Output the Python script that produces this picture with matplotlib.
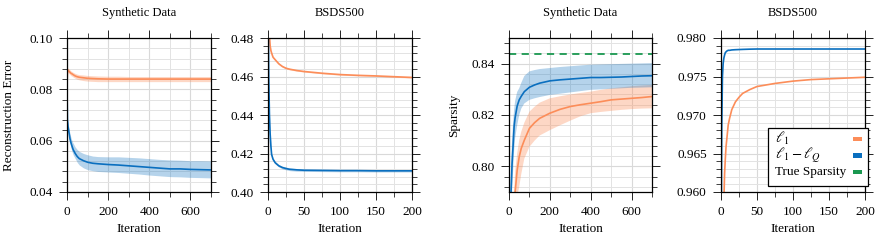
import matplotlib
matplotlib.use("Agg")
import matplotlib.pyplot as plt
from matplotlib.ticker import MultipleLocator, FormatStrFormatter
from matplotlib.patches import Rectangle

plt.rcParams['font.family'] = ['Liberation Serif', 'DejaVu Serif']
plt.rcParams['mathtext.fontset'] = 'stix'
plt.rcParams['font.size'] = 9

ORANGE = '#fc8d59'
BLUE = '#0a6fbf'
GREEN = '#1a9850'

# ---- Panel 1: Synthetic Data, reconstruction error ----
it1 = [0, 2, 5, 10, 15, 20, 25, 30, 40, 50, 60, 80, 100, 125, 150, 200, 250, 300, 350, 400, 450, 500, 550, 600, 650, 700]
err_syn_l1lq = [0.081, 0.068, 0.0655, 0.063, 0.0605, 0.059, 0.0577, 0.0565, 0.055, 0.0538, 0.053, 0.0522, 0.0516, 0.0512, 0.051, 0.0507, 0.0505, 0.0502, 0.0499, 0.0496, 0.0493, 0.049, 0.049, 0.0488, 0.0487, 0.0486]
err_syn_l1lq_hi = [0.081, 0.069, 0.067, 0.0645, 0.0625, 0.061, 0.0598, 0.059, 0.0575, 0.0565, 0.0558, 0.055, 0.0545, 0.054, 0.0538, 0.0537, 0.0537, 0.0535, 0.0533, 0.053, 0.0527, 0.0525, 0.0524, 0.0522, 0.0522, 0.0521]
err_syn_l1lq_lo = [0.081, 0.067, 0.064, 0.0615, 0.0588, 0.057, 0.0556, 0.0545, 0.053, 0.0515, 0.0505, 0.0494, 0.0487, 0.0483, 0.048, 0.0478, 0.0476, 0.0473, 0.047, 0.0466, 0.0463, 0.046, 0.0459, 0.0457, 0.0456, 0.0455]
err_syn_l1 = [0.081, 0.0865, 0.0875, 0.087, 0.0866, 0.0862, 0.086, 0.0857, 0.0852, 0.0849, 0.0847, 0.0845, 0.0843, 0.0842, 0.0841, 0.084, 0.084, 0.084, 0.084, 0.084, 0.084, 0.084, 0.084, 0.084, 0.084, 0.084]
err_syn_l1_hi = [0.081, 0.0873, 0.0884, 0.0879, 0.0875, 0.0871, 0.0869, 0.0866, 0.0862, 0.0859, 0.0857, 0.0856, 0.0854, 0.0853, 0.0852, 0.0851, 0.0851, 0.085, 0.085, 0.085, 0.085, 0.085, 0.085, 0.085, 0.085, 0.085]
err_syn_l1_lo = [0.081, 0.0857, 0.0866, 0.0861, 0.0857, 0.0853, 0.0851, 0.0848, 0.0843, 0.0839, 0.0837, 0.0834, 0.0832, 0.0831, 0.083, 0.083, 0.083, 0.083, 0.083, 0.083, 0.083, 0.083, 0.083, 0.083, 0.083, 0.083]

# ---- Panel 2: BSDS500, reconstruction error ----
it2 = [0, 1, 2, 3, 4, 5, 7, 10, 15, 20, 25, 30, 40, 50, 75, 100, 125, 150, 175, 200]
err_bsd_l1lq = [0.50, 0.46, 0.44, 0.43, 0.424, 0.4195, 0.417, 0.4152, 0.4136, 0.4127, 0.4122, 0.4118, 0.4115, 0.4113, 0.4112, 0.4111, 0.4111, 0.411, 0.411, 0.411]
err_bsd_l1lq_sd = [0.0, 0.0005, 0.0006, 0.0006, 0.0006, 0.0006, 0.0006, 0.0006, 0.0006, 0.0007, 0.0007, 0.0007, 0.0007, 0.0006, 0.0006, 0.0006, 0.0006, 0.0006, 0.0006, 0.0006]
err_bsd_l1 = [0.50, 0.49, 0.481, 0.476, 0.4735, 0.4722, 0.470, 0.4687, 0.4666, 0.4652, 0.4643, 0.4638, 0.4631, 0.4626, 0.4617, 0.461, 0.4606, 0.4603, 0.4599, 0.4595]
err_bsd_l1_sd = [0.0, 0.0004, 0.0004, 0.0004, 0.0004, 0.0004, 0.0004, 0.0004, 0.0004, 0.0004, 0.0004, 0.0004, 0.0003, 0.0003, 0.0003, 0.0003, 0.0003, 0.0003, 0.0003, 0.0003]

# ---- Panel 3: Synthetic Data, sparsity ----
it3 = [0, 5, 10, 15, 20, 25, 30, 40, 50, 60, 75, 100, 125, 150, 200, 250, 300, 350, 400, 450, 500, 550, 600, 650, 700]
sp_syn_l1lq = [0.70, 0.76, 0.79, 0.801, 0.808, 0.8155, 0.819, 0.8235, 0.8259, 0.8273, 0.8291, 0.8308, 0.8317, 0.8324, 0.8333, 0.8337, 0.834, 0.8343, 0.8346, 0.8346, 0.8347, 0.8348, 0.835, 0.8352, 0.8353]
sp_syn_l1lq_hi = [0.70, 0.77, 0.80, 0.810, 0.817, 0.822, 0.8255, 0.829, 0.8304, 0.8325, 0.8352, 0.837, 0.8375, 0.8379, 0.8383, 0.8387, 0.839, 0.8393, 0.8396, 0.8397, 0.8398, 0.8399, 0.84, 0.8401, 0.8402]
sp_syn_l1lq_lo = [0.70, 0.75, 0.78, 0.790, 0.798, 0.806, 0.811, 0.816, 0.820, 0.8225, 0.8245, 0.8259, 0.8265, 0.827, 0.8278, 0.8283, 0.8288, 0.8293, 0.8298, 0.83, 0.8302, 0.8304, 0.8306, 0.8307, 0.8308]
sp_syn_l1 = [0.60, 0.65, 0.70, 0.74, 0.765, 0.78, 0.79, 0.7985, 0.8037, 0.807, 0.8102, 0.8148, 0.817, 0.8187, 0.8207, 0.8222, 0.8233, 0.824, 0.8246, 0.8252, 0.8259, 0.8262, 0.8265, 0.8268, 0.8272]
sp_syn_l1_hi = [0.60, 0.66, 0.71, 0.75, 0.775, 0.79, 0.798, 0.805, 0.8102, 0.8135, 0.817, 0.8213, 0.8232, 0.8248, 0.8265, 0.8273, 0.828, 0.8286, 0.8291, 0.8298, 0.8304, 0.8308, 0.8312, 0.8315, 0.8317]
sp_syn_l1_lo = [0.60, 0.64, 0.69, 0.73, 0.755, 0.77, 0.78, 0.788, 0.792, 0.797, 0.803, 0.8076, 0.810, 0.812, 0.8141, 0.816, 0.8178, 0.8195, 0.8207, 0.8212, 0.8216, 0.822, 0.8223, 0.8225, 0.8226]
true_sparsity = 0.8438

# ---- Panel 4: BSDS500, sparsity ----
it4 = [0, 1, 2, 3, 4, 5, 6, 7, 8, 10, 12, 15, 20, 25, 30, 40, 50, 75, 100, 125, 150, 175, 200]
sp_bsd_l1lq = [0.950, 0.968, 0.975, 0.9767, 0.9774, 0.9778, 0.9781, 0.9782, 0.9783, 0.9784, 0.9784, 0.97845, 0.97848, 0.9785, 0.97852, 0.97855, 0.97857, 0.97857, 0.97857, 0.97857, 0.97857, 0.97857, 0.97857]
sp_bsd_l1 = [0.92, 0.935, 0.945, 0.953, 0.959, 0.9624, 0.9643, 0.9659, 0.9668, 0.9687, 0.9696, 0.9707, 0.9717, 0.9723, 0.9728, 0.9733, 0.9737, 0.9741, 0.9744, 0.9746, 0.9747, 0.9748, 0.9749]

legend_labels = [r'$\ell_1$', r'$\ell_1 - \ell_Q$', 'True Sparsity']
legend_colors = [ORANGE, BLUE, GREEN]
legend_sizes = [10.5, 10.5, 9.5]

W, H = 881, 241
fig = plt.figure(figsize=(W / 100, H / 100), dpi=100)

def add_ax(x0, x1, y0=38, y1=192):
    return fig.add_axes([x0 / W, (H - y1) / H, (x1 - x0) / W, (y1 - y0) / H])

ax1 = add_ax(67, 211)
ax2 = add_ax(268, 412)
ax3 = add_ax(509, 652)
ax4 = add_ax(721, 865)

def style(ax, xlim, ylim, xmaj, xmin, ymaj, ymin, yfmt, title):
    ax.set_xlim(*xlim)
    ax.set_ylim(*ylim)
    ax.xaxis.set_major_locator(MultipleLocator(xmaj))
    ax.xaxis.set_minor_locator(MultipleLocator(xmin))
    ax.yaxis.set_major_locator(MultipleLocator(ymaj))
    ax.yaxis.set_minor_locator(MultipleLocator(ymin))
    ax.yaxis.set_major_formatter(FormatStrFormatter(yfmt))
    ax.grid(True, which='major', color='#d9d9d9', lw=0.8)
    ax.grid(True, which='minor', color='#e3e3e3', lw=0.7)
    ax.set_axisbelow(True)
    ax.tick_params(which='major', direction='out', length=5.8, width=0.7,
                   top=True, right=True, labelsize=9.5, pad=4.5, color='#222222')
    ax.tick_params(which='minor', direction='out', length=3.6, width=0.6,
                   top=True, right=True, color='#222222')
    for s in ax.spines.values():
        s.set_linewidth(0.9)
        s.set_color('black')
    ax.set_xlabel('Iteration', fontsize=9.5, labelpad=3.5)
    ax.set_title(title, fontsize=9, pad=16)

lw = 1.2
ax1.fill_between(it1, err_syn_l1_lo, err_syn_l1_hi, color=ORANGE, alpha=0.35, lw=0)
ax1.fill_between(it1, err_syn_l1lq_lo, err_syn_l1lq_hi, color=BLUE, alpha=0.3, lw=0)
ax1.plot(it1, err_syn_l1, color=ORANGE, lw=lw)
ax1.plot(it1, err_syn_l1lq, color=BLUE, lw=lw)
style(ax1, (0, 700), (0.04, 0.10), 200, 100, 0.02, 0.004, '%.2f', 'Synthetic Data')
ax1.set_ylabel('Reconstruction Error', fontsize=9.5, labelpad=10)

lo2b = [m - s for m, s in zip(err_bsd_l1lq, err_bsd_l1lq_sd)]
hi2b = [m + s for m, s in zip(err_bsd_l1lq, err_bsd_l1lq_sd)]
lo2o = [m - s for m, s in zip(err_bsd_l1, err_bsd_l1_sd)]
hi2o = [m + s for m, s in zip(err_bsd_l1, err_bsd_l1_sd)]
ax2.fill_between(it2, lo2o, hi2o, color=ORANGE, alpha=0.35, lw=0)
ax2.fill_between(it2, lo2b, hi2b, color=BLUE, alpha=0.3, lw=0)
ax2.plot(it2, err_bsd_l1, color=ORANGE, lw=lw)
ax2.plot(it2, err_bsd_l1lq, color=BLUE, lw=lw)
style(ax2, (0, 200), (0.40, 0.48), 50, 25, 0.02, 0.004, '%.2f', 'BSDS500')

ax3.fill_between(it3, sp_syn_l1_lo, sp_syn_l1_hi, color=ORANGE, alpha=0.35, lw=0)
ax3.fill_between(it3, sp_syn_l1lq_lo, sp_syn_l1lq_hi, color=BLUE, alpha=0.3, lw=0)
ax3.plot(it3, sp_syn_l1, color=ORANGE, lw=lw)
ax3.plot(it3, sp_syn_l1lq, color=BLUE, lw=lw)
ax3.axhline(true_sparsity, color=GREEN, lw=1.3, ls=(0, (4, 3)))
style(ax3, (0, 700), (0.79, 0.85), 200, 100, 0.02, 0.004, '%.2f', 'Synthetic Data')
ax3.set_ylabel('Sparsity', fontsize=9.5, labelpad=8)

ax4.plot(it4, sp_bsd_l1, color=ORANGE, lw=lw)
ax4.plot(it4, sp_bsd_l1lq, color=BLUE, lw=lw)
style(ax4, (0, 200), (0.96, 0.98), 50, 25, 0.005, 0.001, '%.3f', 'BSDS500')

# Legend box drawn in axes coordinates (text left, colour patch right)
box = Rectangle((0.326, 0.041), 1.021 - 0.326, 0.416 - 0.041, transform=ax4.transAxes,
                facecolor='white', edgecolor='black', lw=0.9, clip_on=False, zorder=10)
ax4.add_patch(box)
row_y = [0.345, 0.237, 0.13]
for lab, col, yy, fs in zip(legend_labels, legend_colors, row_y, legend_sizes):
    ax4.text(0.375, yy, lab, transform=ax4.transAxes, ha='left', va='center',
             fontsize=fs, zorder=11, clip_on=False)
    ax4.add_patch(Rectangle((0.917, yy - 0.015), 0.0625, 0.03, transform=ax4.transAxes,
                            facecolor=col, edgecolor='none', clip_on=False, zorder=11))

fig.savefig('out.png', dpi=100)
